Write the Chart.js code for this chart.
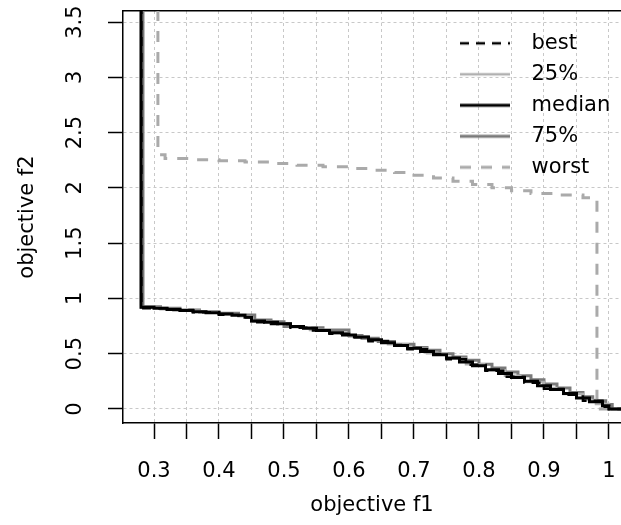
<!DOCTYPE html>
<html><head><meta charset="utf-8">
<script src="https://cdn.jsdelivr.net/npm/chart.js@4/dist/chart.umd.min.js"></script>
<style>html,body{margin:0;padding:0;background:#fff;}canvas{display:block;}</style>
</head><body>
<canvas id="c" width="621" height="525"></canvas>
<script>
// ---- data ----
const seriesNames = ['best', '25%', 'median', '75%', 'worst'];

const bestX = [0.2805, 0.2805, 0.32, 0.36, 0.40, 0.43, 0.45, 0.48, 0.51, 0.54, 0.57, 0.60, 0.63, 0.66, 0.69, 0.72, 0.75, 0.78, 0.81, 0.84, 0.87, 0.90, 0.93, 0.96, 0.99, 1.00, 1.03];
const bestY = [3.8, 0.912, 0.895, 0.875, 0.852, 0.830, 0.785, 0.768, 0.735, 0.710, 0.680, 0.648, 0.612, 0.578, 0.540, 0.498, 0.450, 0.400, 0.345, 0.292, 0.238, 0.183, 0.128, 0.075, 0.020, 0.0, 0.0];

const q25X = [0.2802, 0.2802, 0.31, 0.34, 0.37, 0.40, 0.43, 0.45, 0.48, 0.51, 0.54, 0.57, 0.60, 0.63, 0.66, 0.69, 0.72, 0.75, 0.78, 0.81, 0.84, 0.87, 0.90, 0.93, 0.96, 0.98, 1.00, 1.03];
const q25Y = [3.8, 0.915, 0.902, 0.888, 0.872, 0.856, 0.838, 0.790, 0.775, 0.740, 0.715, 0.685, 0.655, 0.620, 0.585, 0.545, 0.505, 0.455, 0.405, 0.350, 0.300, 0.245, 0.190, 0.135, 0.080, 0.045, 0.0, 0.0];

const medianX = [0.280, 0.280, 0.30, 0.32, 0.34, 0.36, 0.38, 0.40, 0.42, 0.44, 0.45, 0.47, 0.49, 0.51, 0.53, 0.55, 0.57, 0.59, 0.61, 0.63, 0.65, 0.67, 0.69, 0.71, 0.73, 0.75, 0.77, 0.79, 0.81, 0.83, 0.85, 0.87, 0.89, 0.91, 0.93, 0.95, 0.97, 0.99, 1.00, 1.03];
const medianY = [3.8, 0.920, 0.910, 0.900, 0.890, 0.880, 0.870, 0.860, 0.848, 0.830, 0.795, 0.785, 0.770, 0.745, 0.730, 0.710, 0.690, 0.670, 0.650, 0.625, 0.600, 0.575, 0.550, 0.520, 0.490, 0.460, 0.425, 0.390, 0.355, 0.320, 0.285, 0.250, 0.210, 0.175, 0.140, 0.100, 0.065, 0.030, 0.0, 0.0];

const q75X = [0.283, 0.283, 0.31, 0.34, 0.37, 0.40, 0.43, 0.455, 0.48, 0.50, 0.53, 0.56, 0.60, 0.62, 0.645, 0.67, 0.70, 0.72, 0.74, 0.76, 0.78, 0.80, 0.82, 0.84, 0.86, 0.88, 0.90, 0.92, 0.94, 0.96, 0.975, 0.995, 1.005, 1.03];
const q75Y = [3.8, 0.925, 0.910, 0.895, 0.880, 0.865, 0.850, 0.805, 0.790, 0.745, 0.735, 0.715, 0.665, 0.640, 0.610, 0.585, 0.555, 0.530, 0.500, 0.470, 0.440, 0.405, 0.370, 0.335, 0.300, 0.265, 0.225, 0.190, 0.150, 0.110, 0.075, 0.040, 0.0, 0.0];

const worstX = [0.306, 0.306, 0.317, 0.36, 0.40, 0.44, 0.48, 0.52, 0.56, 0.60, 0.64, 0.67, 0.70, 0.73, 0.76, 0.79, 0.82, 0.85, 0.88, 0.92, 0.96, 0.9815, 1.03];
const worstY = [3.8, 2.30, 2.265, 2.255, 2.245, 2.235, 2.22, 2.205, 2.19, 2.175, 2.16, 2.14, 2.115, 2.09, 2.06, 2.03, 2.0, 1.975, 1.95, 1.935, 1.91, 0.0, 0.0];

const xTickLabels = ['0.3', '0.4', '0.5', '0.6', '0.7', '0.8', '0.9', '1'];
const yTickLabels = ['0', '0.5', '1', '1.5', '2', '2.5', '3', '3.5'];

// ---- styles ----
const seriesStyles = [
  {color: '#000000', width: 2.5, dash: [9, 7], order: 1},
  {color: '#b0b0b0', width: 2.5, dash: [], order: 3},
  {color: '#000000', width: 3, dash: [], order: 2},
  {color: '#7a7a7a', width: 3, dash: [], order: 4},
  {color: '#aaaaaa', width: 3, dash: [11, 10], order: 5}
];
const FONT = {family: 'DejaVu Sans', size: 21};

const xs = [bestX, q25X, medianX, q75X, worstX];
const ys = [bestY, q25Y, medianY, q75Y, worstY];

function makeIcon(st) {
  const c = document.createElement('canvas');
  c.width = 50; c.height = 8;
  const g = c.getContext('2d');
  g.strokeStyle = st.color; g.lineWidth = st.width; g.setLineDash(st.dash);
  g.beginPath(); g.moveTo(0, 4); g.lineTo(50, 4); g.stroke();
  return c;
}
const icons = seriesStyles.map(makeIcon);

const datasets = seriesNames.map((name, i) => ({
  label: name,
  data: xs[i].map((x, k) => ({x: x, y: ys[i][k]})),
  order: seriesStyles[i].order,
  borderColor: seriesStyles[i].color,
  borderWidth: seriesStyles[i].width,
  borderDash: seriesStyles[i].dash,
  backgroundColor: 'rgba(0,0,0,0)',
  fill: false,
  stepped: true,
  pointRadius: 0,
  pointHoverRadius: 0,
  borderCapStyle: 'butt',
  borderJoinStyle: 'miter'
}));

function labelFor(list, v) {
  for (const s of list) { if (Math.abs(parseFloat(s) - v) < 1e-6) return s; }
  return '';
}

function noPad(s) { s.paddingLeft = 0; s.paddingRight = 0; s.paddingTop = 0; s.paddingBottom = 0; }

const legendPlace = {
  id: 'legendPlace',
  afterLayout(chart) {
    const l = chart.legend;
    if (!l) return;
    l.left = 439; l.top = 22.8; l.right = 621; l.bottom = 210;
    l.width = l.right - l.left; l.height = l.bottom - l.top;
  }
};

new Chart(document.getElementById('c'), {
  type: 'line',
  data: {datasets: datasets},
  plugins: [legendPlace],
  options: {
    responsive: false, animation: false, devicePixelRatio: 1,
    layout: {padding: 0},
    plugins: {
      tooltip: {enabled: false},
      legend: {
        position: 'chartArea', align: 'start',
        labels: {
          usePointStyle: true, pointStyleWidth: 72, boxHeight: 21, padding: 10,
          font: FONT, color: '#000',
          generateLabels: (chart) => chart.data.datasets.map((ds, i) => ({
            text: ds.label, pointStyle: icons[i], fillStyle: 'rgba(0,0,0,0)',
            strokeStyle: 'rgba(0,0,0,0)', lineWidth: 0, hidden: false, datasetIndex: i, fontColor: '#000'
          }))
        }
      }
    },
    scales: {
      x: {
        type: 'linear', position: 'bottom', min: 0.2523, max: 1.0185,
        afterFit: (s) => { s.height = 102; noPad(s); },
        ticks: {stepSize: 0.05, includeBounds: false, autoSkip: false, maxRotation: 0, minRotation: 0,
          padding: 20, font: FONT, color: '#000', callback: (v) => labelFor(xTickLabels, v)},
        grid: {color: '#c8c8c8', lineWidth: 1, tickLength: 16, tickColor: '#000', tickWidth: 1.5},
        border: {display: true, color: '#000', width: 1.5, dash: [3, 3]},
        title: {display: true, text: 'objective f1', font: FONT, color: '#000', padding: {top: 0, bottom: 7}}
      },
      xTop: {
        type: 'linear', position: 'top', min: 0, max: 1,
        afterFit: (s) => { s.height = 11; noPad(s); },
        ticks: {display: false},
        grid: {display: false, drawTicks: false},
        border: {display: true, color: '#000', width: 1.5}
      },
      y: {
        type: 'linear', position: 'left', min: -0.127, max: 3.6,
        afterFit: (s) => { s.width = 123; noPad(s); },
        ticks: {stepSize: 0.5, includeBounds: false, minRotation: 90, maxRotation: 90, crossAlign: 'center',
          padding: 16, font: FONT, color: '#000', callback: (v) => labelFor(yTickLabels, v)},
        grid: {color: '#c8c8c8', lineWidth: 1, tickLength: 15, tickColor: '#000', tickWidth: 1.5},
        border: {display: true, color: '#000', width: 1.5, dash: [3, 3]},
        title: {display: true, text: 'objective f2', font: FONT, color: '#000', padding: {top: 15, bottom: 0}}
      }
    }
  }
});
</script>
</body></html>
